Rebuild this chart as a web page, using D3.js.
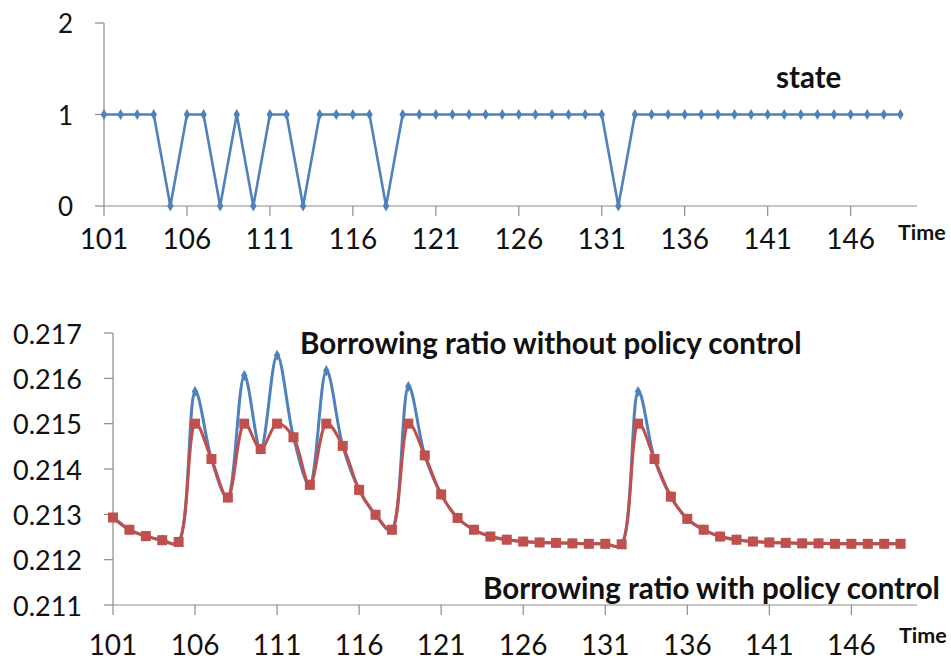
<!DOCTYPE html>
<html><head><meta charset="utf-8">
<script src="https://cdn.jsdelivr.net/npm/d3@7"></script>
<style>body{margin:0;background:#fff}svg{display:block}</style>
</head><body>
<script>
const times = [101,102,103,104,105,106,107,108,109,110,111,112,113,114,115,116,117,118,119,120,121,122,123,124,125,126,127,128,129,130,131,132,133,134,135,136,137,138,139,140,141,142,143,144,145,146,147,148,149];
const state = [1,1,1,1,0,1,1,0,1,0,1,1,0,1,1,1,1,0,1,1,1,1,1,1,1,1,1,1,1,1,1,0,1,1,1,1,1,1,1,1,1,1,1,1,1,1,1,1,1];
const withPolicy = [0.21293,0.21266,0.21252,0.21243,0.21239,0.21500,0.21422,0.21337,0.21500,0.21444,0.21500,0.21470,0.21365,0.21500,0.21451,0.21354,0.21299,0.21266,0.21500,0.21430,0.21344,0.21292,0.21266,0.21251,0.21244,0.21240,0.21238,0.21237,0.21236,0.21235,0.21235,0.21234,0.21500,0.21422,0.21339,0.21290,0.21266,0.21251,0.21244,0.21240,0.21238,0.21237,0.21236,0.21236,0.21235,0.21235,0.21235,0.21235,0.21235];
const withoutPolicy = [0.21293,0.21266,0.21252,0.21243,0.21239,0.21571,0.21422,0.21337,0.21606,0.21444,0.21651,0.21470,0.21365,0.21617,0.21451,0.21354,0.21299,0.21266,0.21582,0.21430,0.21344,0.21292,0.21266,0.21251,0.21244,0.21240,0.21238,0.21237,0.21236,0.21235,0.21235,0.21234,0.21571,0.21422,0.21339,0.21290,0.21266,0.21251,0.21244,0.21240,0.21238,0.21237,0.21236,0.21236,0.21235,0.21235,0.21235,0.21235,0.21235];
const xTicks = [101,106,111,116,121,126,131,136,141,146];
const stateTicks = [0,1,2];
const ratioTicks = [0.211,0.212,0.213,0.214,0.215,0.216,0.217];

const W = 951, H = 662;
const BLUE = "#4f81bd", RED = "#c0504d", AX = "#8c8c8c";
const svg = d3.select("body").append("svg").attr("width", W).attr("height", H);

function axes(g, x, y, yTicks, yFmt, yFont, xLabelY) {
  const [x0, x1] = x.range();
  const [yb, yt] = y.range();
  g.append("line").attr("x1", x0).attr("x2", x1).attr("y1", yb).attr("y2", yb).attr("stroke", AX).attr("stroke-width", 1.2);
  g.append("line").attr("x1", x0).attr("x2", x0).attr("y1", yb).attr("y2", yt).attr("stroke", AX).attr("stroke-width", 1.2);
  g.selectAll(".yt").data(yTicks).join("line").attr("x1", x0 - 9).attr("x2", x0)
    .attr("y1", d => y(d)).attr("y2", d => y(d)).attr("stroke", AX).attr("stroke-width", 1.2);
  g.selectAll(".yl").data(yTicks).join("text").attr("x", x0 - 31).attr("y", d => y(d))
    .attr("text-anchor", "end").attr("dominant-baseline", "central")
    .style("font", `${yFont}px Lato`).attr("fill", "#111").text(yFmt);
  g.selectAll(".xt").data(xTicks).join("line").attr("x1", d => x(d)).attr("x2", d => x(d))
    .attr("y1", yb).attr("y2", yb + 10).attr("stroke", AX).attr("stroke-width", 1.2);
  g.selectAll(".xl").data(xTicks).join("text").attr("x", d => x(d)).attr("y", xLabelY)
    .attr("text-anchor", "middle").attr("dominant-baseline", "central")
    .style("font", "28px Lato").attr("fill", "#111").text(d => d);
}

// Top chart: state
const x1 = d3.scaleLinear().domain([101, 150]).range([104, 917]);
const y1 = d3.scaleLinear().domain([0, 2]).range([206, 23]);
const g1 = svg.append("g");
axes(g1, x1, y1, stateTicks, d => d, 26, 238);
g1.append("path").datum(times.map((t, i) => [t, state[i]]))
  .attr("d", d3.line().x(d => x1(d[0])).y(d => y1(d[1])))
  .attr("fill", "none").attr("stroke", BLUE).attr("stroke-width", 2.6).attr("stroke-linejoin", "round");
const diamond = d3.symbol().type(d3.symbolDiamond).size(36);
g1.selectAll(".m").data(times.map((t, i) => [t, state[i]])).join("path")
  .attr("d", diamond).attr("transform", d => `translate(${x1(d[0])},${y1(d[1])})`).attr("fill", BLUE);
g1.append("text").attr("x", 776).attr("y", 76).attr("dominant-baseline", "central")
  .style("font", "bold 29.5px Lato").attr("fill", "#111").text("state");
g1.append("text").attr("x", 898).attr("y", 232).attr("dominant-baseline", "central")
  .style("font", "bold 21.5px Lato").attr("fill", "#111").text("Time");

// Bottom chart: borrowing ratio
const x2 = d3.scaleLinear().domain([101, 150]).range([113, 917]);
const y2 = d3.scaleLinear().domain([0.211, 0.217]).range([605, 333]);
const g2 = svg.append("g");
axes(g2, x2, y2, ratioTicks, d => d3.format(".3f")(d), 27, 644);
const smooth = d3.line().x(d => x2(d[0])).y(d => y2(d[1])).curve(d3.curveCatmullRom.alpha(0.4));
const blueData = times.map((t, i) => [t, withoutPolicy[i]]);
const redData = times.map((t, i) => [t, withPolicy[i]]);
g2.append("path").datum(blueData).attr("d", smooth).attr("fill", "none").attr("stroke", BLUE).attr("stroke-width", 3);
g2.selectAll(".bm").data(blueData).join("path")
  .attr("d", diamond).attr("transform", d => `translate(${x2(d[0])},${y2(d[1])})`).attr("fill", BLUE);
g2.append("path").datum(redData).attr("d", smooth).attr("fill", "none").attr("stroke", RED).attr("stroke-width", 3);
const sq = 10;
g2.selectAll(".rm").data(redData).join("rect")
  .attr("x", d => x2(d[0]) - sq / 2).attr("y", d => y2(d[1]) - sq / 2)
  .attr("width", sq).attr("height", sq).attr("fill", RED);
g2.append("text").attr("x", 300).attr("y", 342).attr("dominant-baseline", "central")
  .style("font", "bold 29.5px Lato").attr("fill", "#111").text("Borrowing ratio without policy control");
g2.append("text").attr("x", 483).attr("y", 587).attr("dominant-baseline", "central")
  .style("font", "bold 29.5px Lato").attr("fill", "#111").text("Borrowing ratio with policy control");
g2.append("text").attr("x", 899).attr("y", 635).attr("dominant-baseline", "central")
  .style("font", "bold 21.5px Lato").attr("fill", "#111").text("Time");
</script>
</body></html>
